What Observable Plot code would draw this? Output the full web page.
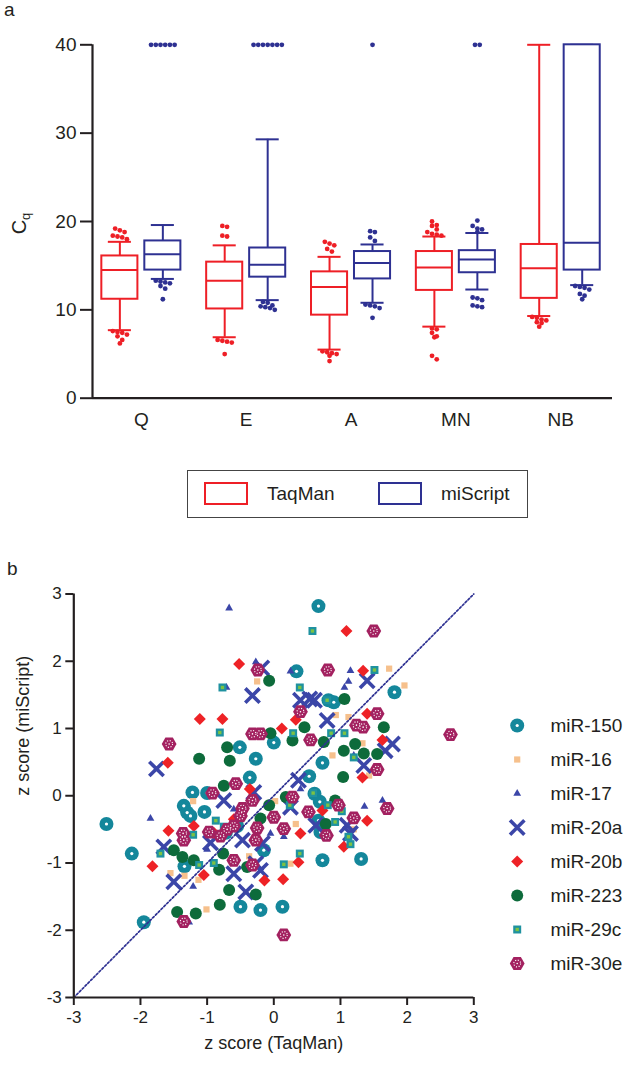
<!DOCTYPE html>
<html><head><meta charset="utf-8">
<script src="https://cdn.jsdelivr.net/npm/d3@7"></script>
<script src="https://cdn.jsdelivr.net/npm/@observablehq/plot@0.6"></script>
<style>
body{margin:0;background:#fff;font-family:Arial,"Liberation Sans",Helvetica,sans-serif;color:#231f20}
#page{position:relative;width:638px;height:1068px;overflow:hidden;background:#fff}
#page svg{overflow:visible}
</style></head><body><div id="page"></div>
<script>
// ---------- Panel a data ----------
const categories = ["Q","E","A","MN","NB"];
const methods = ["TaqMan","miScript"];
const cqTicks = [0,10,20,30,40];
// TaqMan box stats: whisker low, Q1, median, Q3, whisker high
const taqLo  = [7.7, 6.9, 5.5, 8.1, 9.3];
const taqQ1  = [11.2,10.1,9.4,12.2,11.3];
const taqMed = [14.5,13.3,12.6,14.8,14.7];
const taqQ3  = [16.1,15.4,14.3,16.6,17.4];
const taqHi  = [17.7,17.3,16.0,18.3,40];
// miScript box stats
const misLo  = [13.5,11.1,10.8,12.3,12.8];
const misQ1  = [14.5,13.7,13.5,14.2,14.5];
const misMed = [16.3,15.1,15.3,15.7,17.6];
const misQ3  = [17.8,17.0,16.6,16.7,40];
const misHi  = [19.6,29.3,17.4,18.7,40];
// outliers
const taqOut = [
  [19.2,19.0,18.8,18.4,18.3,18.2,18.0,7.6,7.5,7.4,7.2,7.0,6.6,6.2],
  [19.5,19.4,18.4,18.3,6.6,6.5,6.4,6.3,5.0],
  [17.7,17.5,17.3,16.9,16.6,5.3,5.2,5.1,5.0,4.8,4.2],
  [20.0,19.6,19.5,19.1,18.8,18.6,18.5,18.4,7.9,7.8,7.4,7.0,6.9,4.8,4.4],
  [9.2,9.1,8.9,8.8,8.6,8.5,8.1]
];
const misOut = [
  [40,40,40,40,40,40,13.3,13.2,13.1,13.0,12.7,12.4,11.2],
  [40,40,40,40,40,40,40,10.9,10.8,10.5,10.4,10.3,10.2,10.0],
  [40,18.9,18.8,18.2,17.8,10.6,10.5,10.4,10.2,9.1],
  [40,40,20.1,19.5,19.2,19.1,18.8,11.4,11.3,11.1,10.5,10.4,10.3],
  [12.7,12.6,12.5,12.3,11.8,11.6,11.2]
];

// ---------- Panel b data ----------
const zTicks = [-3,-2,-1,0,1,2,3];
const seriesNames = ["miR-150","miR-16","miR-17","miR-20a","miR-20b","miR-223","miR-29c","miR-30e"];
const x150 = [0.67,0.34,1.81,0.9,0.82,-0.51,0,-0.27,-0.36,0.73,0.53,0.61,0.69,0.67,0.7,0.73,1.31,-0.15,-1.22,-1.0,-1.35,-1.3,-1.25,-1.04,-2.51,-2.13,-1.95,-1.34,-0.5,-0.2,0.13,-0.72,-0.55];
const y150 = [2.82,1.85,1.54,1.39,1.42,0.72,0.79,0.55,0.27,0.49,0.29,0.03,-0.09,-0.37,-0.54,-0.96,-0.94,-0.81,0.05,0.04,-0.15,-0.25,-0.3,-0.24,-0.42,-0.86,-1.88,-1.05,-1.65,-1.7,-1.65,-0.55,-0.45];
const x16 = [-0.25,1.73,1.96,0.93,1.12,1.33,-1.21,-0.37,0.88,1.43,0.02,0.33,0.25,-1.34,-1.13,-1.01,-1.55,1.2];
const y16 = [1.7,1.89,1.64,1.2,1.17,0.78,-0.08,-0.9,0.6,0.3,-0.08,-0.42,-1.01,-1.19,-1.25,-1.69,-1.15,-0.5];
const x17 = [-0.67,-0.27,-0.71,0.25,1.15,1.12,1.06,-1.85,1.36,1.63,0.15,-0.05,-1.21,-1.27,-0.6,0.4,1.2,-1.0];
const y17 = [2.79,1.99,1.61,1.85,1.86,1.7,1.61,-0.34,-0.16,-0.07,-0.61,-0.56,-1.35,-1.88,-0.2,0.1,0.6,-0.8];
const x20a = [-0.32,-0.18,1.4,0.54,0.61,0.8,0.4,-1.76,-0.75,-0.47,-1.65,1.67,1.35,0.37,0.25,-0.3,1.1,1.15,0.63,-0.17,-0.27,-1.5,-0.6,-0.42,-0.2,1.78,-0.95];
const y20a = [1.49,1.9,1.71,1.44,1.42,1.12,1.42,0.4,-0.07,-0.66,-0.76,0.67,0.45,0.23,-0.17,0.05,-0.44,-0.56,-0.44,-0.71,-1.01,-1.28,-1.16,-1.43,-1.11,0.77,-0.7];
const x20b = [-0.52,-1.11,-0.77,1.09,1.34,0.12,1.4,0.33,1.63,-1.59,-1.58,-0.36,-1.82,1.33,0.73,1.4,0.4,1.05,0.37,-1.05,-0.14,0.14,-0.9,-0.6,-1.2];
const y20b = [1.96,1.14,1.14,2.45,1.86,1.0,1.22,1.13,0.83,0.49,-0.52,0.1,-1.05,0.27,-0.22,-0.37,-0.56,-0.76,-0.99,-1.18,-1.26,-1.24,-0.55,-0.35,-0.45];
const x223 = [-0.7,-0.07,1.06,0.46,-0.05,-0.66,-1.12,-0.75,-1.5,-1.37,-1.2,-0.76,0.28,0.75,1.05,1.22,1.35,1.55,1.04,-0.07,0.18,0.92,0.78,-0.2,-1.45,-1.17,-0.81,-0.67,-0.82,-0.27,-0.4,1.65];
const y223 = [0.72,1.71,1.44,1.02,0.93,0.52,0.55,0.15,-0.81,-0.91,-0.96,-0.86,0.82,0.8,0.67,0.77,0.63,0.62,0.28,-0.14,-0.02,-0.07,-0.42,-0.34,-1.73,-1.75,-1.62,-1.4,-1.1,-1.47,-1.06,1.02];
const x29c = [-0.77,-0.81,0.58,1.51,0.39,0.8,1.06,0.29,0.86,-0.87,-1.21,-1.7,-0.75,1.2,0.59,0.24,0.81,1.02,0.92,1.12,1.15,0.39,0.15,-1.12,-0.9];
const y29c = [1.61,0.94,2.45,1.87,1.61,1.42,0.93,0.93,0.93,-0.37,-0.58,-0.86,-0.46,0.57,0.04,-0.14,-0.14,-0.23,-0.39,-0.61,-0.72,-0.86,-1.02,-1.03,-1.0];
const x30e = [-1.57,-0.24,1.5,0.81,0.4,1.55,1.24,1.34,0.55,-0.32,-0.2,-0.92,-0.57,-0.47,-0.32,-1.35,-1.36,-0.97,-0.6,-0.32,1.55,0.28,0.52,0.97,1.2,0.79,1.7,0,0.15,-0.25,-0.27,-1.35,0.15,2.65,-0.8,-0.7,-0.6,-0.5];
const y30e = [0.77,1.87,2.45,1.87,1.25,1.22,1.05,1.02,0.83,0.92,0.92,0.04,0.18,-0.19,-0.07,-0.66,-0.56,-0.54,-0.96,-1.03,0.39,-0.02,-0.24,-0.14,-0.33,-0.59,-0.19,-0.32,-0.49,-0.48,-0.66,-1.87,-2.07,0.91,-0.6,-0.5,-0.45,-0.3];

// ---------- styling ----------
const RED = "#ee1f26", NAVY = "#2e3192", INK = "#231f20";
const FONT = 'Arial, "Liberation Sans", Helvetica, sans-serif';
const page = document.getElementById("page");
function place(el, left, top) {
  el.style.position = "absolute"; el.style.left = left + "px"; el.style.top = top + "px";
  page.appendChild(el); return el;
}
function html(s) { const d = document.createElement("div"); d.innerHTML = s; return d; }

// ---------- Panel a ----------
const OFF = 0.205, BW = 0.172, CW = 0.11, DOT_SP = 0.045;
const stats = [
  {lo: taqLo, q1: taqQ1, med: taqMed, q3: taqQ3, hi: taqHi, out: taqOut},
  {lo: misLo, q1: misQ1, med: misMed, q3: misQ3, hi: misHi, out: misOut}
];
const boxes = [], outs = [];
methods.forEach((m, mi) => categories.forEach((c, ci) => {
  const s = stats[mi];
  const xc = ci + (mi === 0 ? -OFF : OFF);
  boxes.push({method: m, xc, lo: s.lo[ci], q1: s.q1[ci], med: s.med[ci], q3: s.q3[ci], hi: s.hi[ci]});
  const sorted = [...s.out[ci]].sort((a, b) => b - a);
  let i = 0;
  while (i < sorted.length) {
    let j = i;
    while (j + 1 < sorted.length && sorted[i] - sorted[j + 1] < 0.45) j++;
    const n = j - i + 1;
    for (let k = 0; k < n; k++) outs.push({method: m, v: sorted[i + k], x: xc + (k - (n - 1) / 2) * DOT_SP});
    i = j + 1;
  }
}));
const xDomA = [-0.466, 4.494];
const color = {domain: methods, range: [RED, NAVY]};
const pa = Plot.plot({
  width: 638, height: 445, marginLeft: 92, marginRight: 26, marginTop: 44.3, marginBottom: 47.3,
  x: {domain: xDomA}, y: {domain: [cqTicks[0], cqTicks[cqTicks.length - 1]]},
  color,
  style: {fontFamily: FONT, fontSize: "19px", color: INK, background: "transparent"},
  marks: [
    Plot.ruleX(boxes, {x: "xc", y1: "q3", y2: "hi", stroke: "method", strokeWidth: 2}),
    Plot.ruleX(boxes, {x: "xc", y1: "lo", y2: "q1", stroke: "method", strokeWidth: 2}),
    Plot.ruleY(boxes, {y: "hi", x1: d => d.xc - CW, x2: d => d.xc + CW, stroke: "method", strokeWidth: 2}),
    Plot.ruleY(boxes, {y: "lo", x1: d => d.xc - CW, x2: d => d.xc + CW, stroke: "method", strokeWidth: 2}),
    Plot.rect(boxes, {x1: d => d.xc - BW, x2: d => d.xc + BW, y1: "q1", y2: "q3", fill: "white", stroke: "method", strokeWidth: 2}),
    Plot.ruleY(boxes, {y: "med", x1: d => d.xc - BW, x2: d => d.xc + BW, stroke: "method", strokeWidth: 2}),
    Plot.dot(outs, {x: "x", y: "v", r: 2.4, fill: "method"}),
    Plot.ruleX([xDomA[0]], {stroke: INK, strokeWidth: 2.2}),
    Plot.ruleY([cqTicks[0]], {stroke: INK, strokeWidth: 2.2}),
    Plot.axisY({ticks: cqTicks, tickSize: 12, tickPadding: 4, strokeWidth: 2, label: null, tickFormat: d => String(d)}),
    Plot.axisX({ticks: d3.range(categories.length), tickSize: 0, tickPadding: 14, label: null, tickFormat: i => categories[i]})
  ]
});
place(pa, 0, 0);

place(html('a'), 4, -1).style.cssText += ';font-size:19px';
const cq = place(html('C<sub style="font-size:13px;vertical-align:-4px">q</sub>'), 8, 208);
cq.style.cssText += ';font-size:20px;transform:rotate(-90deg);transform-origin:center;width:28px;text-align:center;line-height:24px';

// Panel a legend (HTML)
const legA = place(document.createElement("div"), 187, 470);
legA.style.cssText += `;width:339px;height:46px;border:1.5px solid #444;box-sizing:content-box`;
function sw(left, col) { const d = document.createElement("div"); d.style.cssText = `position:absolute;left:${left}px;top:11px;width:40px;height:19px;border:2px solid ${col}`; legA.appendChild(d); }
function lt(left, t) { const d = document.createElement("div"); d.textContent = t; d.style.cssText = `position:absolute;left:${left}px;top:11px;font-size:19px;line-height:24px`; legA.appendChild(d); }
sw(16, RED); lt(79, methods[0]); sw(190, NAVY); lt(253, methods[1]);

// ---------- Panel b ----------
const TEAL = "#14879b", ORANGE = "#f6c08c", BLUE = "#3b46a8", DRED = "#ee2226", GREEN = "#0d6b3b", TEAL2 = "#1f92a0", LIME = "#7dc243", MAROON = "#a32160";
const hexagon = {draw(ctx, size) {
  const r = Math.sqrt(size / Math.PI);
  for (let i = 0; i < 6; i++) { const a = i * Math.PI / 3; const px = r * Math.cos(a), py = r * Math.sin(a); i ? ctx.lineTo(px, py) : ctx.moveTo(px, py); }
  ctx.closePath();
}};
const xsAll = [x150, x16, x17, x20a, x20b, x223, x29c, x30e];
const ysAll = [y150, y16, y17, y20a, y20b, y223, y29c, y30e];
const pts = seriesNames.map((n, si) => xsAll[si].map((x, i) => ({series: n, x, y: ysAll[si][i]})));

function seriesMarks(si, data, X, Y) {
  const o = {x: X, y: Y};
  switch (si) {
    case 0: return [Plot.dot(data, {...o, r: 7, fill: TEAL}), Plot.dot(data, {...o, r: 1.6, fill: "white"})];
    case 1: return [Plot.dot(data, {...o, symbol: "square", r: 3.5, fill: ORANGE})];
    case 2: return [Plot.dot(data, {...o, symbol: "triangle", r: 2.9, fill: BLUE})];
    case 3: return [Plot.dot(data, {...o, symbol: "times", r: 6.6, stroke: BLUE, strokeWidth: 3.6, fill: "none"})];
    case 4: return [Plot.dot(data, {...o, symbol: "diamond2", r: 5.4, fill: DRED})];
    case 5: return [Plot.dot(data, {...o, r: 6, fill: GREEN})];
    case 6: return [Plot.dot(data, {...o, symbol: "square", r: 4.5, fill: TEAL2}), Plot.dot(data, {...o, symbol: "square", r: 1.9, fill: LIME})];
    case 7: return [Plot.dot(data, {...o, symbol: hexagon, r: 7.4, fill: MAROON}),
                    Plot.dot(data, {...o, r: 3.4, fill: "none", stroke: "white", strokeWidth: 1.1, strokeDasharray: "1.1,1.6"}),
                    Plot.dot(data, {...o, r: 0.8, fill: "white"})];
  }
}
const diag = zTicks.map(t => ({x: t, y: t}));
const zDom = [zTicks[0], zTicks[zTicks.length - 1]];
const pb = Plot.plot({
  width: 500, height: 508, marginLeft: 73.3, marginRight: 26.7, marginTop: 33.5, marginBottom: 71,
  x: {domain: zDom}, y: {domain: zDom},
  style: {fontFamily: FONT, fontSize: "17px", color: INK, background: "transparent"},
  marks: [
    ...pts.flatMap((d, si) => seriesMarks(si, d, "x", "y")),
    Plot.line(diag, {x: "x", y: "y", stroke: NAVY, strokeWidth: 1.7, strokeDasharray: "2,2"}),
    Plot.ruleX([zDom[0]], {stroke: INK, strokeWidth: 2.2}),
    Plot.ruleY([zDom[0]], {stroke: INK, strokeWidth: 2.2}),
    Plot.axisX({ticks: zTicks, tickSize: 8, tickPadding: 5, strokeWidth: 2, label: null, tickFormat: d => String(d)}),
    Plot.axisY({ticks: zTicks, tickSize: 8, tickPadding: 4, strokeWidth: 2, label: null, tickFormat: d => String(d)}),
    Plot.text(["z score (TaqMan)"], {frameAnchor: "bottom", dy: 51, fontSize: 18}),
    Plot.text(["z score (miScript)"], {frameAnchor: "left", dx: -51, rotate: -90, fontSize: 18})
  ]
});
place(pb, 0, 560);
place(html('b'), 7, 558).style.cssText += ';font-size:19px';

// Panel b legend
const legRows = seriesNames.map(n => ({series: n}));
const leg = Plot.plot({
  width: 138, height: 290, margin: 0,
  x: {domain: [0, 1], range: [16.7, 50], axis: null},
  y: {type: "point", domain: seriesNames, range: [22, 265], padding: 0, axis: null},
  style: {fontFamily: FONT, fontSize: "19px", color: INK, background: "transparent"},
  marks: [
    ...seriesNames.flatMap((n, si) => seriesMarks(si, [legRows[si]], () => 0, "series")),
    Plot.text(legRows, {x: () => 1, y: "series", text: "series", textAnchor: "start", fontSize: 19})
  ]
});
place(leg, 500, 700);
</script></body></html>
